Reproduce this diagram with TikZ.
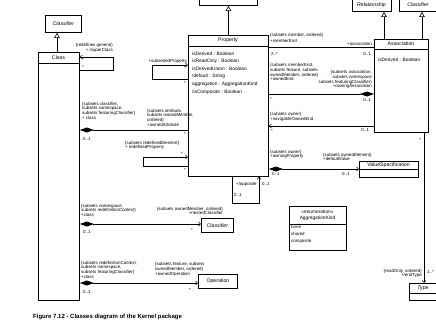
\documentclass[tikz,border=0pt]{standalone}
\usepackage{fontspec}
\setmainfont{Liberation Sans}
\usetikzlibrary{arrows.meta}
\newcommand\lblf{\fontsize{4.4}{4.6}\selectfont}
\newcommand\attf{\fontsize{4.8}{7.6}\selectfont}
\newcommand\ttlf{\fontsize{5.2}{6}\selectfont}
\begin{document}
\begin{tikzpicture}[x=1pt,y=-1pt,
  box/.style={draw, line width=0.85pt, inner sep=0, anchor=north west},
  ttl/.style={font=\ttlf, inner sep=0},
  lbl/.style={font=\lblf, inner sep=0, align=left},
  lblr/.style={font=\lblf, inner sep=0, align=right},
  att/.style={font=\attf, inner sep=0, align=left, anchor=north west},
  sep/.style={line width=0.85pt},
  conn/.style={line width=0.85pt},
  gen/.style={conn, -{Triangle[open,length=5pt,width=5.5pt,line width=0.6pt]}},
  nav/.style={conn, -{Straight Barb[length=2.2pt,width=4pt,line width=0.5pt]}},
  comp/.style={conn, {Diamond[length=14pt,width=5pt]}-},
  compnav/.style={conn, {Diamond[length=14pt,width=5pt]}-{Straight Barb[length=2.2pt,width=4pt,line width=0.5pt]}}
]
\useasboundingbox (0,0) rectangle (436,330);
\clip (0,0) rectangle (436,330);

% ---------- boxes ----------
\node[box, minimum width=36pt, minimum height=17pt] (clsf) at (45,15) {};
\node[ttl, font=\ttlf\itshape] (clsft) at (clsf.center) {Classifier};

\node[box, minimum width=41pt, minimum height=248pt] (class) at (38,52) {};
\draw[sep] (class.west |- 0,63) -- (class.east |- 0,63);
\node[ttl] (classt) at (58.5,57.5) {Class};

\node[box, minimum width=58pt, minimum height=15pt] (sfeat) at (199,-10) {};

\node[box, minimum width=80pt, minimum height=141pt] (property) at (188,35) {};
\draw[sep] (property.west |- 0,46) -- (property.east |- 0,46);
\node[ttl] (propt) at (228,40.5) {Property};
\node[att] (propatt) at (192,51.5) {isDerived : Boolean\\isReadOnly : Boolean\\isDerivedUnion : Boolean\\/default : String\\aggregation : AggregationKind\\/isComposite : Boolean};

\node[box, minimum width=39pt, minimum height=21pt] (rel) at (352,-10) {};
\node[ttl, font=\ttlf\itshape] (relt) at (371.5,5) {Relationship};
\node[box, minimum width=45pt, minimum height=21pt] (clsf2) at (399,-10) {};
\node[ttl, font=\ttlf\itshape] (clsf2t) at (418,5) {Classifier};

\node[box, minimum width=54pt, minimum height=93pt] (assoc) at (374,39) {};
\draw[sep] (assoc.west |- 0,49) -- (assoc.east |- 0,49);
\node[ttl] (assoct) at (401,44) {Association};
\node[att] (assocatt) at (378,57.5) {isDerived : Boolean};

\node[box, minimum width=59pt, minimum height=16pt] (vspec) at (359,161) {};
\draw[sep] (vspec.west |- 0,169) -- (vspec.east |- 0,169);
\node[ttl] (vspect) at (388.5,165) {ValueSpecification};

\node[box, minimum width=57pt, minimum height=44pt] (enum) at (289,206) {};
\draw[sep] (enum.west |- 0,224) -- (enum.east |- 0,224);
\node[ttl, align=center, font=\fontsize{4.8}{5.6}\selectfont] (enumt) at (317.5,215) {<<enumeration>>\\AggregationKind};
\node[att, font=\fontsize{4.4}{7}\selectfont] (enumlit) at (291,226) {none\\shared\\composite};

\node[box, minimum width=32pt, minimum height=14pt] (nclsf) at (201,218) {};
\node[ttl, font=\ttlf\itshape] (nclsft) at (nclsf.center) {Classifier};

\node[box, minimum width=39pt, minimum height=14pt] (oper) at (198,274) {};
\node[ttl] (opert) at (oper.center) {Operation};

\node[box, minimum width=30pt, minimum height=17pt] (type) at (409,283) {};
\draw[sep] (type.west |- 0,293) -- (type.east |- 0,293);
\node[ttl, font=\ttlf\itshape] (typet) at (423,288) {Type};

% ---------- generalizations ----------
\draw[gen] (class.north -| 57,0) -- (clsf.south -| 57,0);
\draw[gen] (property.north) -- (sfeat.south -| property.north);
\draw[gen] (assoc.north -| 384,0) -- (rel.south -| 384,0);
\draw[gen] (assoc.north -| 422,0) -- (clsf2.south -| 422,0);

% ---------- Class superClass loop ----------
\coordinate (sc1) at (113,57);
\coordinate (sc2) at (113,70);
\draw[nav] (class.east |- sc2) -- (sc2) -- (sc1) -- (class.east |- sc1);
\node[lblr, anchor=north east] (sclbl) at (113,43.5) {\{redefines general\}\\+ /superClass};
\node[lbl, anchor=west] (scm1) at (82,60) {*};
\node[lbl, anchor=west] (scm2) at (82,67) {*};

% ---------- subsettedProperty loop ----------
\coordinate (sp1) at (152,65);
\coordinate (sp2) at (152,79);
\draw[nav] (property.west |- sp2) -- (sp2) -- (sp1) -- (property.west |- sp1);
\node[lbl, anchor=south east] (splbl) at (187,63.5) {+subsettedProperty};
\node[lbl, anchor=east] (spm1) at (186,68) {*};
\node[lbl, anchor=east] (spm2) at (186,83) {*};

% ---------- Class - Property ----------
\coordinate (cp) at (0,130);
\draw[comp] (class.east |- cp) -- (property.west |- cp);
\node[lbl, anchor=north west] (cpl) at (82,102) {\{subsets classifier,\\subsets namespace,\\subsets featuringClassifier\}\\+ class};
\node[lbl, anchor=west] (cpm1) at (83,139) {0..1};
\node[lbl, anchor=north west] (cpr) at (147,109) {\{subsets attribute,\\subsets ownedMember,\\ordered\}\\+ownedAttribute};
\node[lbl, anchor=east] (cpm2) at (186,134) {*};

% ---------- redefinedProperty loop ----------
\coordinate (rp1) at (143,157);
\coordinate (rp2) at (143,166);
\draw[nav] (property.west |- rp2) -- (rp2) -- (rp1) -- (property.west |- rp1);
\node[lbl, anchor=north west] (rpl) at (125,141) {\{subsets redefinedElement\}\\+ redefinedProperty};
\node[lbl, anchor=east] (rpm1) at (183,154) {*};
\node[lbl, anchor=east] (rpm2) at (186,170) {*};

% ---------- opposite loop ----------
\coordinate (op1) at (232,203);
\coordinate (op2) at (259,203);
\draw[nav] (property.south -| op1) -- (op1) -- (op2) -- (property.south -| op2);
\node[lbl, anchor=west] (opl) at (236,184) {+/opposite};
\node[lbl, anchor=west] (opm1) at (234,195) {0..1};
\node[lbl, anchor=west] (opm2) at (262,184) {0..1};

% ---------- Class - nested Classifier ----------
\coordinate (nc) at (0,224);
\draw[compnav] (class.east |- nc) -- (nclsf.west |- nc);
\node[lbl, anchor=north west] (ncl) at (81,204) {\{subsets namespace,\\subsets redefinitionContext\}\\+class};
\node[lbl, anchor=west] (ncm1) at (83,232) {0..1};
\node[lblr, anchor=north east] (ncr) at (223,207) {\{subsets ownedMember, ordered\}\\+nestedClassifier};
\node[lbl, anchor=west] (ncm2) at (191,230) {*};

% ---------- Class - Operation ----------
\coordinate (co) at (0,283);
\draw[compnav] (class.east |- co) -- (oper.west |- co);
\node[lbl, anchor=north west] (col) at (81,261) {\{subsets redefinitionContext,\\subsets namespace,\\subsets featuringClassifier\}\\+class};
\node[lbl, anchor=west] (com1) at (83,292) {0..1};
\node[lbl, anchor=north west] (cor) at (155,262.5) {\{subsets feature, subsets\\ownedMember, ordered\}\\+ownedOperation};
\node[lbl, anchor=west] (com2) at (189,290) {*};

% ---------- memberEnd ----------
\coordinate (me) at (0,47);
\draw[conn] (property.east |- me) -- (assoc.west |- me);
\node[lbl, anchor=north west] (mel) at (270,33.5) {\{subsets member, ordered\}\\[1.5pt]+memberEnd};
\node[lbl, anchor=south east] (mer) at (372,46) {+association};
\node[lbl, anchor=west] (mem1) at (271,54) {2..*};
\node[lbl, anchor=east] (mem2) at (371,54) {0..1};

% ---------- ownedEnd ----------
\coordinate (oe) at (0,94);
\draw[conn, -{Diamond[length=14pt,width=5pt]}] (property.east |- oe) -- (assoc.west |- oe);
\node[lbl, anchor=north west] (oel) at (270,63.5) {\{subsets memberEnd,\\subsets feature, subsets\\ownedMember, ordered\}\\+ownedEnd};
\node[lblr, anchor=north east] (oer) at (372,70.5) {\{subsets association,\\subsets namespace\\subsets featuringClassifier\}\\+owningAssociation};
\node[lbl, anchor=west] (oem1) at (270,99) {*};
\node[lbl, anchor=east] (oem2) at (371,100) {0..1};

% ---------- navigableOwnedEnd ----------
\coordinate (no) at (0,126);
\draw[nav] (assoc.west |- no) -- (property.east |- no);
\node[lbl, anchor=north west] (nol) at (270,112.5) {\{subsets owner\}\\+navigableOwnedEnd};
\node[lbl, anchor=west] (nom1) at (271,131) {*};
\node[lbl, anchor=east] (nom2) at (369,130) {0..1};

% ---------- owningProperty / defaultValue ----------
\coordinate (dv) at (0,169);
\draw[compnav] (property.east |- dv) -- (vspec.west |- dv);
\node[lbl, anchor=north west] (dvl) at (270,150) {\{subsets owner\}\\+owningProperty};
\node[lbl, anchor=north west] (dvr) at (323,153) {\{subsets ownedElement\}\\+defaultValue};
\node[lbl, anchor=west] (dvm1) at (272,174) {0..1};
\node[lbl, anchor=west] (dvm2) at (342,174) {0..1};

% ---------- endType ----------
\draw[nav] (assoc.south -| 424,0) -- (type.north -| 424,0);
\node[lblr, anchor=north east] (etl) at (422,269) {\{readOnly, ordered\}\\+/endType};
\node[lbl, anchor=west] (etm1) at (427,272) {1..*};
\node[lbl, anchor=east] (etm2) at (421,140) {*};

% ---------- caption ----------
\node[inner sep=0, anchor=west, font=\fontsize{6}{7}\selectfont\bfseries] (cap) at (33,317) {Figure 7.12 - Classes diagram of the Kernel package};
\end{tikzpicture}
\end{document}
